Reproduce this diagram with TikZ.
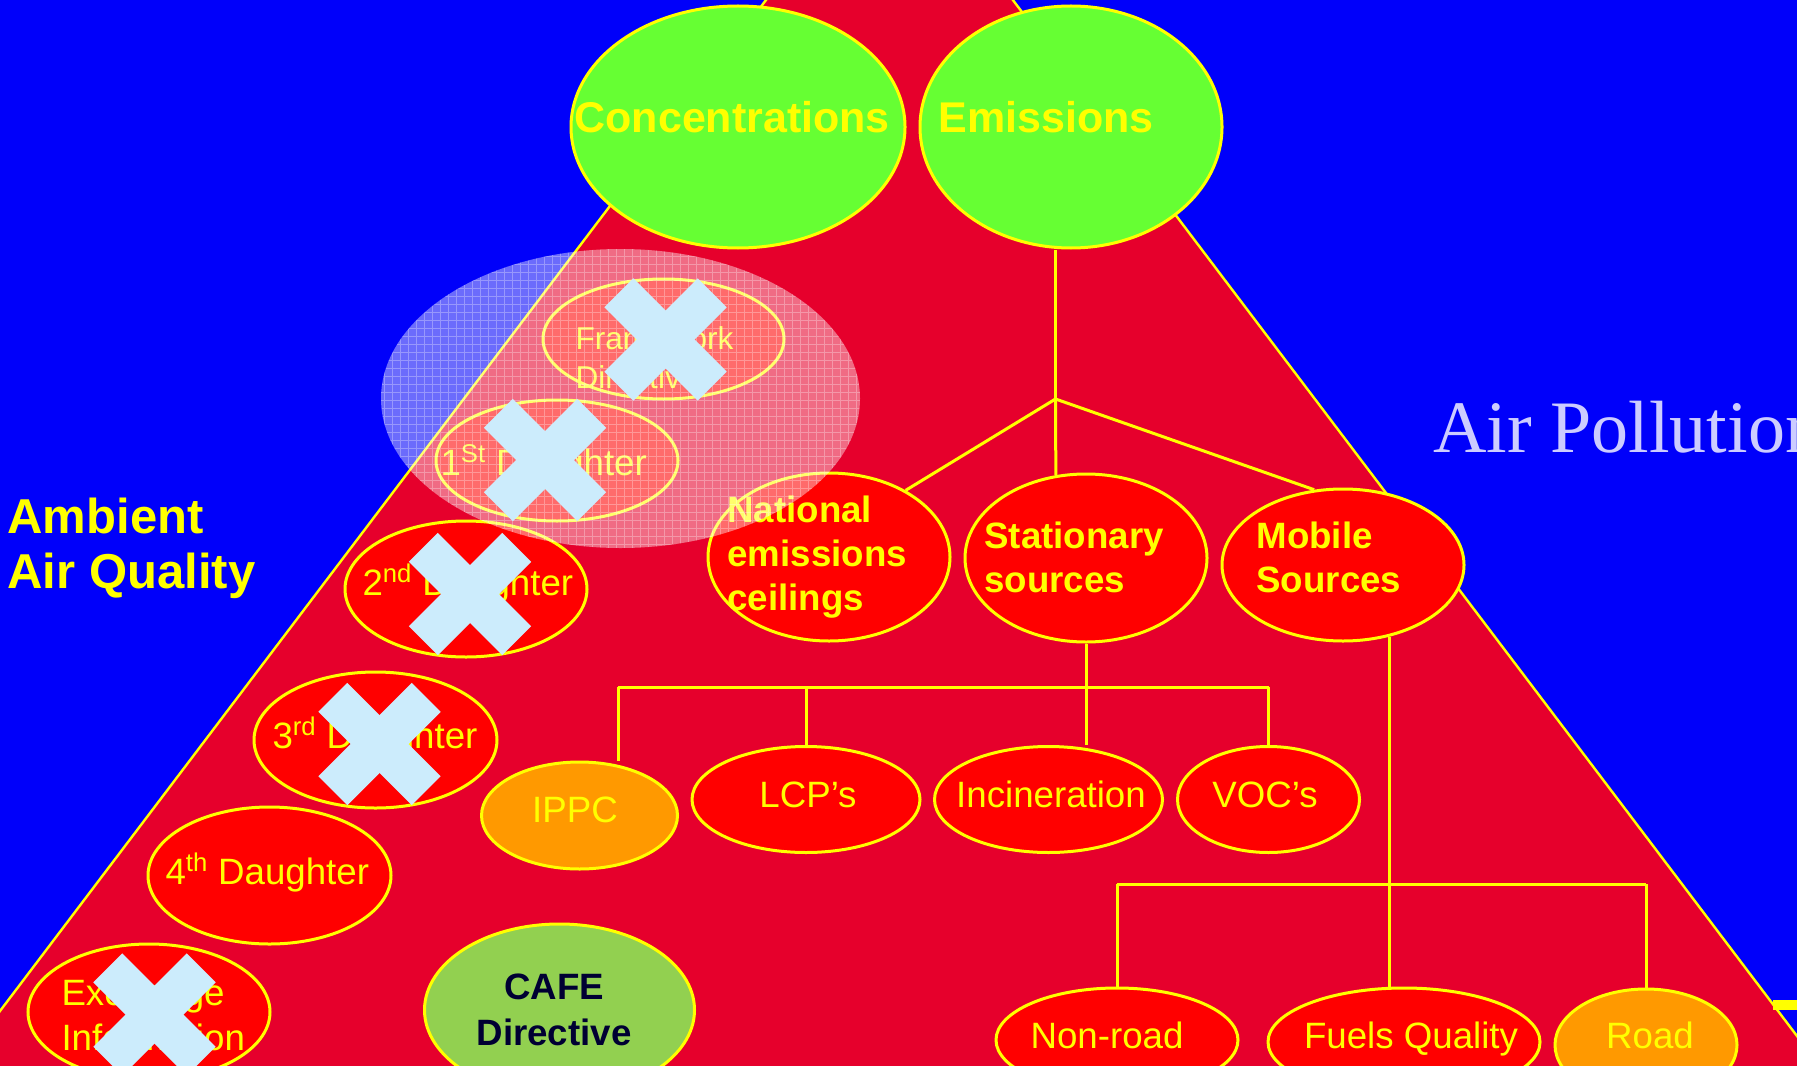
\documentclass[tikz,border=0pt]{standalone}
\usepackage{fontspec}
\setmainfont{Liberation Sans}
\newfontfamily\timesfont{Liberation Serif}
\usetikzlibrary{shapes.geometric}

\definecolor{bgblue}{RGB}{0,0,250}
\definecolor{trired}{RGB}{230,0,44}
\definecolor{ovred}{RGB}{255,0,0}
\definecolor{ylw}{RGB}{255,255,0}
\definecolor{lime}{RGB}{102,255,51}
\definecolor{amber}{RGB}{255,153,0}
\definecolor{cafegreen}{RGB}{146,208,80}
\definecolor{deepnavy}{RGB}{0,0,51}
\definecolor{xblue}{RGB}{204,236,252}
\definecolor{lilac}{RGB}{204,204,255}

\newcommand\fnttitle{\fontsize{32.25}{38}\selectfont\bfseries}
\newcommand\fntamb{\fontsize{36.75}{41.25}\selectfont\bfseries}
\newcommand\fntmid{\fontsize{27.5}{33.25}\selectfont\bfseries}
\newcommand\fntcafe{\fontsize{27.5}{34.5}\selectfont\bfseries}
\newcommand\fntplain{\fontsize{27.5}{33.75}\selectfont}
\newcommand\fntfw{\fontsize{23.7}{29.25}\selectfont}
\newcommand\fntair{\timesfont\fontsize{55.5}{60}\selectfont}

\tikzset{every picture/.style={line width=0.75pt}}
\tikzset{
  oval/.style={ellipse, draw=ylw, line width=2.25pt, fill=ovred, inner sep=0pt},
  link/.style={draw=ylw, line width=2.25pt},
  txt/.style={text=ylw, inner sep=0pt, align=left},
  crossmark/.pic={
    \fill[xblue, rotate=45] (-66,-20.5) rectangle (66,20.5);
    \fill[xblue, rotate=-45] (-66,-20.5) rectangle (66,20.5);
  }
}

\begin{document}
\begin{tikzpicture}[x=0.75pt,y=0.75pt,yscale=-1]
\useasboundingbox (0,0) rectangle (1797,1066);
\clip (0,0) rectangle (1797,1066);
\fill[bgblue] (0,0) rectangle (1797,1066);

% pyramid
\filldraw[fill=trired, draw=ylw, line width=1.8pt] (889.5,-163) -- (-50,1077) -- (1828,1077) -- cycle;
\fill[ylw] (1773,1000) rectangle (1800,1010);

% ovals
\node[oval, fill=lime, minimum width=250.5pt, minimum height=181.5pt] (conc) at (738,127) {};
\node[oval, fill=lime, minimum width=226.5pt, minimum height=181.5pt] (emis) at (1071,127) {};
\node[oval, minimum width=181.5pt, minimum height=126pt] (natl) at (829,557) {};
\node[oval, minimum width=181.5pt, minimum height=126pt] (stat) at (1086,558) {};
\node[oval, minimum width=181.5pt, minimum height=114pt] (mob) at (1343,565) {};
\node[oval, fill=amber, minimum width=147pt, minimum height=80.25pt] (ippc) at (579.5,815.5) {};
\node[oval, minimum width=171pt, minimum height=79.5pt] (lcp) at (806,799.5) {};
\node[oval, minimum width=171pt, minimum height=79.5pt] (inc) at (1048.5,799.5) {};
\node[oval, minimum width=136.5pt, minimum height=79.5pt] (voc) at (1268.5,799.5) {};
\node[oval, minimum width=181.5pt, minimum height=78pt] (nonroad) at (1117,1040) {};
\node[oval, minimum width=204pt, minimum height=81pt] (fuels) at (1404,1042) {};
\node[oval, fill=amber, minimum width=136.5pt, minimum height=84pt] (road) at (1646,1045) {};
\node[oval, minimum width=180.75pt, minimum height=90pt] (fw) at (663.5,339) {};
\node[oval, minimum width=181.5pt, minimum height=90.75pt] (d1) at (557,460.5) {};
\node[oval, minimum width=181.5pt, minimum height=102pt] (d2) at (466,589) {};
\node[oval, minimum width=182.25pt, minimum height=102pt] (d3) at (375.5,740) {};
\node[oval, minimum width=182.25pt, minimum height=102.75pt] (d4) at (269.5,875.5) {};
\node[oval, minimum width=181.5pt, minimum height=102pt] (exch) at (149,1012) {};
\node[oval, fill=cafegreen, minimum width=202.5pt, minimum height=129pt] (cafe) at (559.5,1010) {};

% links
\coordinate (hub) at (1055.5,399);
\draw[link] (emis.south -| hub) -- (hub);
\draw[link] (hub) -- (natl.41);
\draw[link] (hub) -- (stat.110);
\draw[link] (hub) -- (mob.111);

\coordinate (sbar) at (1086,687);
\coordinate (ippcdrop) at (618,687);
\draw[link] (stat.south) -- (sbar) -- (sbar |- inc.north);
\draw[link] (ippcdrop) -- (sbar -| voc.north);
\draw[link] (ippcdrop) -- (ippcdrop |- ippc.north);
\draw[link] (sbar -| lcp.north) -- (lcp.north);
\draw[link] (sbar -| voc.north) -- (voc.north);

\coordinate (mbar) at (mob.-57 |- 0,884);
\draw[link] (mob.-57) -- (mob.-57 |- fuels.north);
\draw[link] (mbar -| nonroad.north) -- (mbar -| road.north);
\draw[link] (mbar -| nonroad.north) -- (nonroad.north);
\draw[link] (mbar -| road.north) -- (road.north);

% labels
\node[txt, font=\fnttitle, anchor=base west] (t-conc) at (574,133) {Concentrations};
\node[txt, font=\fnttitle, anchor=base west] (t-emis) at (938,133) {Emissions};
\node[txt, font=\fntamb, anchor=north west] (t-amb) at (7,497) {Ambient\\Air Quality};
\node[txt, font=\fntmid, anchor=north west] (t-natl) at (727,495) {National\\emissions\\ceilings};
\node[txt, font=\fntmid, anchor=north west] (t-stat) at (984,521) {Stationary\\sources};
\node[txt, font=\fntmid, anchor=north west] (t-mob) at (1256,521) {Mobile\\Sources};
\node[txt, font=\fntfw, anchor=north west] (t-fw) at (575,326) {Framework\\Directive};
\node[txt, font=\fntplain, anchor=base west] (t-d1) at (440,475) {1\textsuperscript{St} Daughter};
\node[txt, font=\fntplain, anchor=base west] (t-d2) at (362,595) {2\textsuperscript{nd} Daughter};
\node[txt, font=\fntplain, anchor=base west] (t-d3) at (272,748) {3\textsuperscript{rd} Daughter};
\node[txt, font=\fntplain, anchor=base west] (t-d4) at (165,884) {4\textsuperscript{th} Daughter};
\node[txt, font=\fntplain, anchor=north west] (t-exch) at (61,978) {Exchange\\Information};
\node[txt, font=\fntcafe, text=deepnavy, align=center, anchor=north] (t-cafe) at (554,973) {CAFE\\Directive};
\node[txt, font=\fntplain, anchor=base] (t-ippc) at (575,822) {IPPC};
\node[txt, font=\fntplain, anchor=base] (t-lcp) at (808,807) {LCP's};
\node[txt, font=\fntplain, anchor=base] (t-inc) at (1051,807) {Incineration};
\node[txt, font=\fntplain, anchor=base] (t-voc) at (1265,807) {VOC's};
\node[txt, font=\fntplain, anchor=base] (t-nonroad) at (1107,1048) {Non-road};
\node[txt, font=\fntplain, anchor=base] (t-fuels) at (1411,1048) {Fuels Quality};
\node[txt, font=\fntplain, anchor=base] (t-road) at (1650,1048) {Road};
\node[txt, font=\fntair, text=lilac, anchor=base west] (t-air) at (1433,452) {Air Pollution};

% withdrawn items
\fill[white, opacity=0.42] (620.5,398.5) ellipse [x radius=239.5, y radius=149.5];
\begin{scope}
  \clip (620.5,398.5) ellipse [x radius=239.5, y radius=149.5];
  \draw[white, opacity=0.3, line width=0.5pt, step=8] (380,248) grid (862,550);
\end{scope}

\pic at (665.5,339.5) {crossmark};
\pic at (545,460) {crossmark};
\pic at (470,594) {crossmark};
\pic at (379.5,744) {crossmark};
\pic at (154.5,1014.5) {crossmark};
\end{tikzpicture}
\end{document}
